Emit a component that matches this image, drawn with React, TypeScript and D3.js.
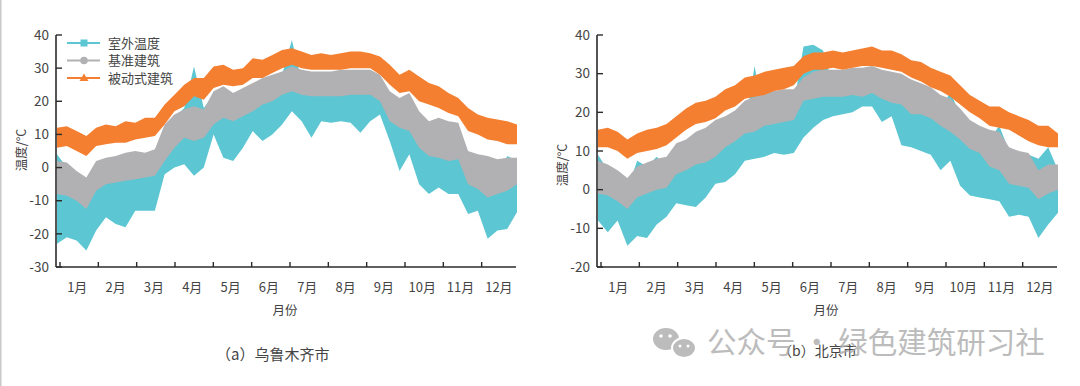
import React from 'react'
import { scaleLinear, area, curveLinear } from 'd3'

const months = ['1月', '2月', '3月', '4月', '5月', '6月', '7月', '8月', '9月', '10月', '11月', '12月']
const seriesNames = ['室外温度', '基准建筑', '被动式建筑']
const colors = ['#5cc6d2', '#b1b1b3', '#f47f30']

const urumqiTicks = [-30, -20, -10, 0, 10, 20, 30, 40]
const beijingTicks = [-20, -10, 0, 10, 20, 30, 40]

// 乌鲁木齐 — weekly-ish envelopes (max / min)
const urumqiOutdoorHi = [4, 0, -3, -5, -3, 0, 0, 1, 2, 2, 3, 12, 15, 18, 30.5, 18, 22, 22, 20, 22, 24, 25, 26, 28, 38.5, 26, 25, 26, 26, 26, 26, 26, 26, 26, 22, 15, 18, 12, 8, 8, 7, 6, 0, -1, -3, -3, 3.5, 2]
const urumqiOutdoorLo = [-23, -21, -22, -25, -19, -15, -17, -18, -13, -13, -13, -2, 0, 1, -2.5, 0, 10, 3, 2, 6, 11, 8, 10, 13, 17, 14, 9, 14, 13.5, 14, 13.5, 10.5, 14, 16, 8, -1, 4, -5, -8, -6, -8, -8, -14, -13, -21.5, -19, -18.5, -13.5]
const urumqiBaseHi = [2, 1.5, -1, -3, 2, 3, 3.5, 4.5, 5, 4.5, 5.5, 13, 16, 17.5, 18.5, 17.5, 23, 24.5, 22.5, 24, 25.5, 27, 28, 29, 30.5, 29.5, 29, 29, 29, 29.5, 29.5, 29.5, 29.5, 28, 23, 21, 22.5, 17, 14, 15, 14, 13.5, 5, 4, 3.5, 2.5, 3, 3]
const urumqiBaseLo = [-8, -8.5, -10, -12.5, -7, -5, -4.5, -4, -3.5, -3, -2.5, 2, 6, 9, 8, 9, 13, 15, 14, 15.5, 17, 19, 20, 22, 23, 22, 21.5, 21.5, 21.5, 21.5, 22, 22, 22, 20, 14, 12, 11, 6, 3.5, 3, 2, 2.5, -5, -6.5, -9, -8, -7, -5]
const urumqiPassiveHi = [12, 12.5, 11, 9.5, 12, 13, 12.5, 14, 13.5, 15, 15, 19, 22, 25, 27, 27, 30.5, 31, 29.5, 30, 33, 32.5, 34, 35.5, 36, 35, 34, 34.5, 34, 34.5, 35, 35, 34.5, 33.5, 31, 28, 29.5, 27.5, 25.5, 24.5, 22.5, 21, 18, 16, 15, 14.5, 14, 13]
const urumqiPassiveLo = [6, 6.5, 5, 3.5, 6.5, 7, 7.5, 7.5, 8.5, 9, 9.5, 13, 17, 18.5, 21.5, 20.5, 24, 25, 24.5, 25, 27, 27, 28.5, 30, 31, 30, 29.5, 29.5, 29.5, 29.5, 30, 30, 30, 28, 25, 22.5, 23, 20, 19, 18, 16.5, 15.5, 11, 10, 8.5, 8, 7, 7]

// 北京
const beijingOutdoorHi = [9, 5, 3, 0, 7.5, 6, 8.5, 6, 6, 7, 8, 9, 11, 12, 14, 16, 32, 18, 19, 20, 22, 37, 37.5, 36, 27, 27, 28, 28, 29, 27, 27, 25, 23, 22, 20, 20, 25.5, 19, 14, 14, 13, 16.5, 10, 8, 9, 8, 11, 5]
const beijingOutdoorLo = [-8, -11, -8, -14.5, -12, -12.5, -9, -7, -3.5, -4, -4.5, -2, 1.5, 2, 4, 7.5, 8, 8.5, 9.5, 9, 9.5, 13.5, 16, 18, 19, 19.5, 20, 21.5, 21.5, 17.5, 19, 11.5, 11, 10, 9, 5, 7.5, 1, -1.5, -2, -2.5, -3, -7, -6.5, -7, -12.5, -9, -6]
const beijingBaseHi = [7.5, 6.5, 5, 3, 6, 7, 8, 8.5, 12, 13, 15, 16, 18, 19, 20.5, 23, 24, 25, 25.5, 26, 26, 29, 30.5, 31, 31, 31, 31.5, 31.5, 32, 31, 30.5, 30, 28.5, 27.5, 26.5, 24.5, 23.5, 21, 18, 16.5, 15.5, 15, 11, 10, 9.5, 5, 6.5, 6.5]
const beijingBaseLo = [-1, -1.5, -3, -5, -2, -1, 0, 0.5, 4, 5, 6.5, 7, 8.5, 11, 12.5, 14.5, 15, 16.5, 17, 17.5, 18, 23, 23.5, 24, 24, 24, 24.5, 24, 25, 23.5, 22.5, 22, 19.5, 19.5, 18.5, 16.5, 15, 13, 10.5, 9.5, 6, 5, 1.5, 1, 0.5, -2.5, -1, 0]
const beijingPassiveHi = [15.5, 16, 15, 13, 14.5, 15.5, 16, 17, 19, 21, 22.5, 23, 24, 26, 27, 29, 29.5, 30.5, 31, 31.5, 32, 34.5, 35.5, 35.5, 36, 35.5, 36, 36.5, 37, 36, 36, 35, 33.5, 33, 31.5, 30.5, 29.5, 27, 24.5, 23, 21.5, 21.5, 20, 19, 18, 16.5, 16.5, 14.5]
const beijingPassiveLo = [11, 11, 10, 8, 9.5, 10, 10.5, 11.5, 13.5, 15.5, 17, 17.5, 18.5, 20.5, 21.5, 23.5, 24, 24.5, 25.5, 26, 27, 30, 31, 31, 31.5, 31, 31.5, 32, 32, 31.5, 31, 30.5, 29, 28, 26.5, 25.5, 24, 22, 20, 18.5, 16.5, 16, 15.5, 14, 12.5, 11.5, 11, 11]

const font = '"Noto Sans CJK SC", "Noto Sans", sans-serif'
const textColor = '#444'
const axisColor = '#2b2b2b'

type Band = { hi: number[]; lo: number[] }

type PanelProps = {
  axisX: number
  domain: [number, number]
  ticks: number[]
  bands: Band[]
  yLabelY: number
  caption: string
  captionX: number
  captionY: number
  captionSize: number
  legend?: boolean
}

let Panel = ({ axisX, domain, ticks, bands, yLabelY, caption, captionX, captionY, captionSize, legend }: PanelProps) => {
  let top = 35
  let bottom = 267
  let plotW = 460

  let y = scaleLinear().domain(domain).range([bottom, top])
  let xMonth = scaleLinear().domain([0, 12]).range([axisX + 4, axisX + 4 + plotW])
  let n = bands[0].hi.length
  let xIdx = scaleLinear().domain([0, n - 1]).range([axisX + 1, axisX + 1 + plotW])

  let bandArea = (b: Band) =>
    area<number>()
      .x((_, i) => xIdx(i))
      .y0((_, i) => y(b.lo[i]))
      .y1((_, i) => y(b.hi[i]))
      .curve(curveLinear)(b.hi)

  return (
    <g fontFamily={font}>
      {bands.map((b, k) => (
        <path key={k} d={bandArea(b) || ''} fill={colors[k]} />
      ))}

      {/* axes */}
      <line x1={axisX} x2={axisX} y1={top} y2={bottom} stroke={axisColor} strokeWidth={1.6} />
      <line x1={axisX} x2={axisX + plotW} y1={bottom} y2={bottom} stroke={axisColor} strokeWidth={1.6} />
      {ticks.map(t => (
        <g key={t}>
          <line x1={axisX} x2={axisX + 6} y1={y(t)} y2={y(t)} stroke={axisColor} strokeWidth={1.4} />
          <text x={axisX - 7} y={y(t)} dy="0.35em" textAnchor="end" fontSize={13.5} fill={textColor}>{t}</text>
        </g>
      ))}
      {months.map((m, i) => (
        <g key={m}>
          <line x1={xMonth(i)} x2={xMonth(i)} y1={bottom} y2={bottom - 5} stroke={axisColor} strokeWidth={1.4} />
          <text x={xMonth(i + 0.45)} y={287} dy="0.35em" textAnchor="middle" fontSize={13} fill={textColor}>{m}</text>
        </g>
      ))}

      <text transform={`translate(${axisX - 34},${yLabelY}) rotate(-90)`} textAnchor="middle" dy="0.35em" fontSize={12.5} fill={textColor}>温度/°C</text>
      <text x={axisX + 229} y={311} dy="0.35em" textAnchor="middle" fontSize={12.5} fill={textColor}>月份</text>
      <text x={captionX} y={captionY} dy="0.35em" fontSize={captionSize} fill={textColor}>{caption}</text>

      {legend && seriesNames.map((s, k) => {
        let ly = 43 + k * 17.5
        let cx = axisX + 28
        return (
          <g key={s}>
            <line x1={axisX + 11} x2={axisX + 44} y1={ly} y2={ly} stroke={colors[k]} strokeWidth={2} />
            {k === 0 && <rect x={cx - 3.5} y={ly - 3.5} width={7} height={7} fill={colors[k]} />}
            {k === 1 && <circle cx={cx} cy={ly} r={3.8} fill={colors[k]} />}
            {k === 2 && <path d={`M${cx},${ly - 4.5}L${cx + 4.5},${ly + 3}L${cx - 4.5},${ly + 3}Z`} fill={colors[k]} />}
            <text x={axisX + 52} y={ly} dy="0.35em" fontSize={13} fill={textColor}>{s}</text>
          </g>
        )
      })}
    </g>
  )
}

let App = () => {
  let width = 1080
  let height = 386

  return (
    <div style={{ position: 'fixed', left: 0, top: 0, width, height, background: '#fff' }}>
      <svg width={width} height={height} style={{ display: 'block' }}>
        <rect width={width} height={height} fill="#fff" />
        <line x1={0.75} x2={0.75} y1={0} y2={height} stroke="#c8c8c8" strokeWidth={1.5} />

        <Panel
          axisX={56}
          domain={[-30, 40]}
          ticks={urumqiTicks}
          bands={[
            { hi: urumqiOutdoorHi, lo: urumqiOutdoorLo },
            { hi: urumqiBaseHi, lo: urumqiBaseLo },
            { hi: urumqiPassiveHi, lo: urumqiPassiveLo },
          ]}
          yLabelY={150}
          caption="（a）乌鲁木齐市"
          captionX={216}
          captionY={355}
          captionSize={15}
          legend
        />
        <Panel
          axisX={597}
          domain={[-20, 40]}
          ticks={beijingTicks}
          bands={[
            { hi: beijingOutdoorHi, lo: beijingOutdoorLo },
            { hi: beijingBaseHi, lo: beijingBaseLo },
            { hi: beijingPassiveHi, lo: beijingPassiveLo },
          ]}
          yLabelY={165}
          caption="（b）北京市"
          captionX={778}
          captionY={351}
          captionSize={14}
        />

        {/* watermark, it lies over the (b) caption as in the original */}
        <g opacity={0.75} fill="#a6a6a6">
          <ellipse cx={666} cy={339} rx={13} ry={11} />
          <ellipse cx={684} cy={348} rx={12} ry={10} stroke="#fff" strokeWidth={2} />
          <circle cx={661} cy={336} r={1.8} fill="#fff" />
          <circle cx={670} cy={336} r={1.8} fill="#fff" />
          <circle cx={680} cy={346} r={1.5} fill="#fff" />
          <circle cx={688} cy={346} r={1.5} fill="#fff" />
          <text x={707} y={353} fontSize={29.5} fontFamily={font}>公众号 · 绿色建筑研习社</text>
        </g>
      </svg>
    </div>
  )
}

export default App
